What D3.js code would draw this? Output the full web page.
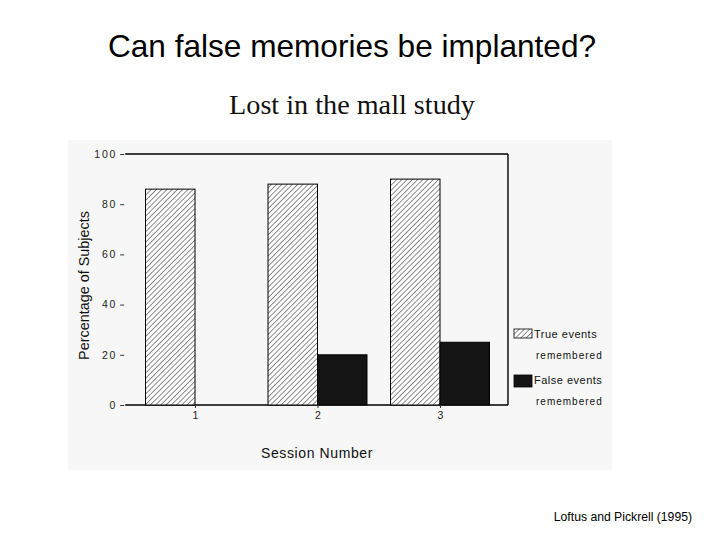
<!DOCTYPE html>
<html><head><meta charset="utf-8">
<script src="https://cdn.jsdelivr.net/npm/d3@7"></script>
<style>body{margin:0;background:#fff}svg{display:block}</style>
</head><body>
<script>
const sessions = [1, 2, 3];
const trueEvents = [86, 88, 90];
const falseEvents = [0, 20, 25];
const yTicks = [0, 20, 40, 60, 80, 100];
const seriesNames = ["True events", "False events"];

const W = 720, H = 540;
const svg = d3.select("body").append("svg").attr("width", W).attr("height", H);

const defs = svg.append("defs");
const pat = defs.append("pattern").attr("id","hatch").attr("patternUnits","userSpaceOnUse")
  .attr("width",3.7).attr("height",3.7).attr("patternTransform","rotate(45)");
pat.append("rect").attr("width",3.7).attr("height",3.7).attr("fill","#fff");
pat.append("line").attr("x1",0).attr("y1",0).attr("x2",0).attr("y2",3.7).attr("stroke","#000").attr("stroke-width",0.9);

// scanned figure background
svg.append("rect").attr("x",68).attr("y",140).attr("width",544).attr("height",330).attr("fill","#f7f7f7");

svg.append("text").attr("x",352).attr("y",57).attr("text-anchor","middle")
  .attr("font-family","Liberation Sans, Arial, sans-serif").attr("font-size",31.6).attr("fill","#000")
  .text("Can false memories be implanted?");
svg.append("text").attr("x",352).attr("y",114).attr("text-anchor","middle")
  .attr("font-family","Liberation Serif, Times New Roman, serif").attr("font-size",28.2).attr("fill","#111")
  .text("Lost in the mall study");
svg.append("text").attr("x",692).attr("y",521).attr("text-anchor","end")
  .attr("font-family","Liberation Sans, Arial, sans-serif").attr("font-size",12.2).attr("fill","#000")
  .text("Loftus and Pickrell (1995)");

const x = d3.scaleLinear().domain([1,3]).range([195,440]);
const y = d3.scaleLinear().domain([0,100]).range([405,154]);
const bw = x(1.404) - x(1);
const left = x(0.43), right = x(3.555);

const g = svg.append("g");
// frame lines
g.append("line").attr("x1",left).attr("x2",right).attr("y1",y(100)).attr("y2",y(100)).attr("stroke","#000").attr("stroke-width",1.4);
g.append("line").attr("x1",left).attr("x2",right).attr("y1",y(0)).attr("y2",y(0)).attr("stroke","#000").attr("stroke-width",1.4);
g.append("line").attr("x1",right).attr("x2",right).attr("y1",y(100)).attr("y2",y(0)).attr("stroke","#000").attr("stroke-width",1.4);

// bars
g.selectAll(".t").data(sessions).join("rect")
  .attr("x",d=>x(d)-bw).attr("width",bw)
  .attr("y",(d,i)=>y(trueEvents[i])).attr("height",(d,i)=>y(0)-y(trueEvents[i]))
  .attr("fill","url(#hatch)").attr("stroke","#000").attr("stroke-width",1);
g.selectAll(".f").data(sessions.filter((d,i)=>falseEvents[i]>0)).join("rect")
  .attr("x",d=>x(d)).attr("width",bw)
  .attr("y",d=>y(falseEvents[sessions.indexOf(d)])).attr("height",d=>y(0)-y(falseEvents[sessions.indexOf(d)]))
  .attr("fill","#141414").attr("stroke","#000").attr("stroke-width",1);

// y axis (ticks + labels, no spine)
const yAxis = d3.axisLeft(y).tickValues(yTicks).tickSize(4).tickPadding(3);
const ya = svg.append("g").attr("transform",`translate(${left-1},0)`).call(yAxis);
ya.select(".domain").remove();
ya.selectAll("text").attr("font-family","Liberation Sans, Arial, sans-serif").attr("font-size",10.5)
  .attr("letter-spacing","1.8px").attr("fill","#222");
ya.selectAll("line").attr("stroke","#333");

// x axis
const xAxis = d3.axisBottom(x).tickValues(sessions).tickSize(3).tickPadding(4).tickFormat(d3.format("d"));
const xa = svg.append("g").attr("transform",`translate(0,${y(0)})`).call(xAxis);
xa.select(".domain").remove();
xa.selectAll("text").attr("font-family","Liberation Sans, Arial, sans-serif").attr("font-size",10.5).attr("fill","#222");
xa.selectAll("line").attr("stroke","#333");

svg.append("text").attr("x",317).attr("y",458).attr("text-anchor","middle")
  .attr("font-family","Liberation Sans, Arial, sans-serif").attr("font-size",14).attr("letter-spacing","0.6px").attr("fill","#111")
  .text("Session  Number");
svg.append("text").attr("transform","translate(89,285.5) rotate(-90)").attr("text-anchor","middle")
  .attr("font-family","Liberation Sans, Arial, sans-serif").attr("font-size",14.4).attr("fill","#111")
  .text("Percentage of Subjects");

// legend
const leg = svg.append("g");
const legFill = ["url(#hatch)", "#141414"];
const legY = [329, 375];
seriesNames.forEach((nm,i)=>{
  leg.append("rect").attr("x",514).attr("y",legY[i]).attr("width",18).attr("height",i?12:9)
    .attr("fill",legFill[i]).attr("stroke","#000").attr("stroke-width",0.8);
  leg.append("text").attr("x",534).attr("y",legY[i]+9).attr("font-family","Liberation Sans, Arial, sans-serif")
    .attr("font-size",11).attr("letter-spacing","0.5px").attr("fill","#111").text(nm.replace(" ","  "));
  leg.append("text").attr("x",536).attr("y",legY[i]+30).attr("font-family","Liberation Sans, Arial, sans-serif")
    .attr("font-size",10).attr("letter-spacing","1px").attr("fill","#111").text("remembered");
});
</script>
</body></html>
